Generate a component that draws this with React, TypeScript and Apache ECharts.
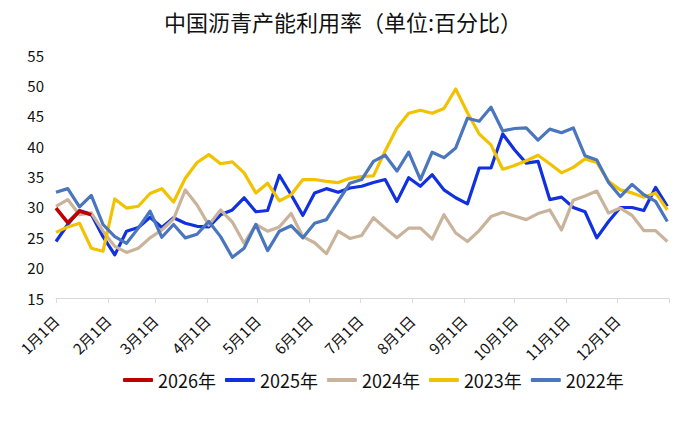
import React, { useEffect, useRef } from "react";
import * as echarts from "echarts";

const TITLE = "中国沥青产能利用率（单位:百分比）";
const SERIES_NAMES = ["2026年", "2025年", "2024年", "2023年", "2022年"];
const SERIES_COLORS = ["#c00000", "#1131e0", "#c9b39b", "#f2c200", "#4a76bd"];
const MONTH_DAYS = [31, 28, 31, 30, 31, 30, 31, 31, 30, 31, 30, 31];

// weekly values, week i plotted at day 7*i of the year
const Y2026 = [29.8, 27.4, 29.3, 28.7];
const Y2025 = [
  24.3, 27.1, 29.4, 28.8, 25.1, 22.1, 26.0, 26.6, 28.3, 26.6, 28.2, 27.3, 26.8, 26.7,
  28.7, 29.5, 31.5, 29.2, 29.4, 35.2, 32.0, 28.6, 32.3, 33.0, 32.4, 33.1, 33.4, 34.0,
  34.5, 30.9, 34.8, 33.4, 35.3, 32.8, 31.5, 30.5, 36.4, 36.4, 42.0, 39.4, 37.2, 37.5,
  31.2, 31.6, 29.9, 29.2, 24.9, 27.6, 29.9, 29.9, 29.4, 33.2, 30.1,
];
const Y2024 = [
  30.1, 31.2, 28.7, 29.0, 26.0, 23.5, 22.5, 23.2, 24.9, 26.2, 28.0, 32.8, 30.3, 27.0,
  29.5, 27.5, 24.0, 27.1, 26.0, 26.7, 28.9, 25.1, 24.1, 22.3, 26.0, 24.8, 25.3, 28.2,
  26.5, 24.9, 26.5, 26.5, 24.7, 28.7, 25.7, 24.3, 26.1, 28.4, 29.1, 28.5, 27.9, 28.9,
  29.5, 26.2, 31.1, 31.8, 32.6, 29.0, 29.8, 28.6, 26.1, 26.1, 24.3,
];
const Y2023 = [
  25.8, 26.7, 27.3, 23.2, 22.7, 31.3, 29.8, 30.1, 32.2, 33.0, 30.8, 34.7, 37.3, 38.6,
  37.1, 37.4, 35.6, 32.3, 33.9, 31.0, 32.0, 34.5, 34.5, 34.2, 34.0, 34.7, 35.0, 35.1,
  39.2, 43.0, 45.4, 45.9, 45.4, 46.2, 49.4, 45.5, 42.0, 40.2, 36.2, 36.8, 37.6, 38.5,
  37.1, 35.6, 36.5, 37.9, 37.3, 34.2, 32.8, 32.3, 31.6, 32.3, 29.5,
];
const Y2022 = [
  32.4, 33.0, 30.0, 31.9, 27.1, 25.1, 24.0, 26.5, 29.3, 25.0, 27.1, 24.9, 25.5, 27.6,
  25.1, 21.7, 23.2, 27.1, 22.8, 26.0, 26.9, 24.9, 27.3, 27.9, 30.9, 33.9, 34.5, 37.5,
  38.5, 35.9, 39.0, 34.5, 39.0, 38.1, 39.7, 44.6, 44.1, 46.4, 42.5, 42.9, 43.0, 41.0,
  42.8, 42.2, 43.0, 38.4, 37.7, 34.0, 31.7, 33.7, 32.0, 30.9, 27.6,
];
const SERIES_VALUES = [Y2026, Y2025, Y2024, Y2023, Y2022];

const FONT = "'Noto Sans CJK SC', 'Noto Sans', sans-serif";

export default function App() {
  const ref = useRef<HTMLDivElement>(null);

  useEffect(() => {
    if (!ref.current) return;
    const chart = echarts.init(ref.current, undefined, { renderer: "svg" });

    const categories: string[] = [];
    const monthStarts = new Set<number>();
    let idx = 0;
    MONTH_DAYS.forEach((n, m) => {
      monthStarts.add(idx);
      for (let d = 1; d <= n; d++) {
        categories.push(`${m + 1}月${d}日`);
        idx++;
      }
    });
    const endIdx = idx;
    categories.push("1月1日");

    chart.setOption({
      animation: false,
      backgroundColor: "#ffffff",
      title: {
        text: TITLE,
        left: 159,
        top: 5,
        textStyle: { fontSize: 22, fontWeight: "normal", color: "#111", fontFamily: FONT },
      },
      legend: {
        data: SERIES_NAMES,
        left: 118,
        top: 366,
        itemWidth: 30,
        itemHeight: 4,
        itemGap: 9,
        icon: "roundRect",
        textStyle: { fontSize: 18, color: "#111", fontFamily: FONT },
      },
      grid: { left: 56, right: 16, top: 55, bottom: 126, containLabel: false },
      xAxis: {
        type: "category",
        data: categories,
        boundaryGap: false,
        axisLine: { show: true, lineStyle: { color: "#d9d9d9", width: 1 } },
        axisTick: {
          show: true,
          length: 5,
          interval: (i: number) => monthStarts.has(i) || i === endIdx,
          lineStyle: { color: "#d9d9d9" },
        },
        axisLabel: {
          interval: (i: number) => monthStarts.has(i),
          rotate: 45,
          fontSize: 15,
          margin: 20,
          color: "#111",
          fontFamily: FONT,
        },
        splitLine: { show: false },
      },
      yAxis: {
        type: "value",
        min: 15,
        max: 55,
        interval: 5,
        axisLine: { show: false },
        axisTick: { show: false },
        splitLine: { show: false },
        axisLabel: { fontSize: 15, color: "#111", margin: 12, fontFamily: FONT },
      },
      series: SERIES_NAMES.map((name, s) => ({
        name,
        type: "line",
        z: s === 0 ? 5 : 2,
        showSymbol: false,
        symbol: "none",
        color: SERIES_COLORS[s],
        lineStyle: { width: s === 0 ? 3.6 : 3.2, color: SERIES_COLORS[s], join: "round" },
        data: SERIES_VALUES[s].map((v, i) => [i * 7, v]),
      })),
    });

    return () => chart.dispose();
  }, []);

  return (
    <div
      ref={ref}
      style={{ position: "fixed", left: 0, top: 0, width: 685, height: 424, background: "#fff" }}
    />
  );
}
